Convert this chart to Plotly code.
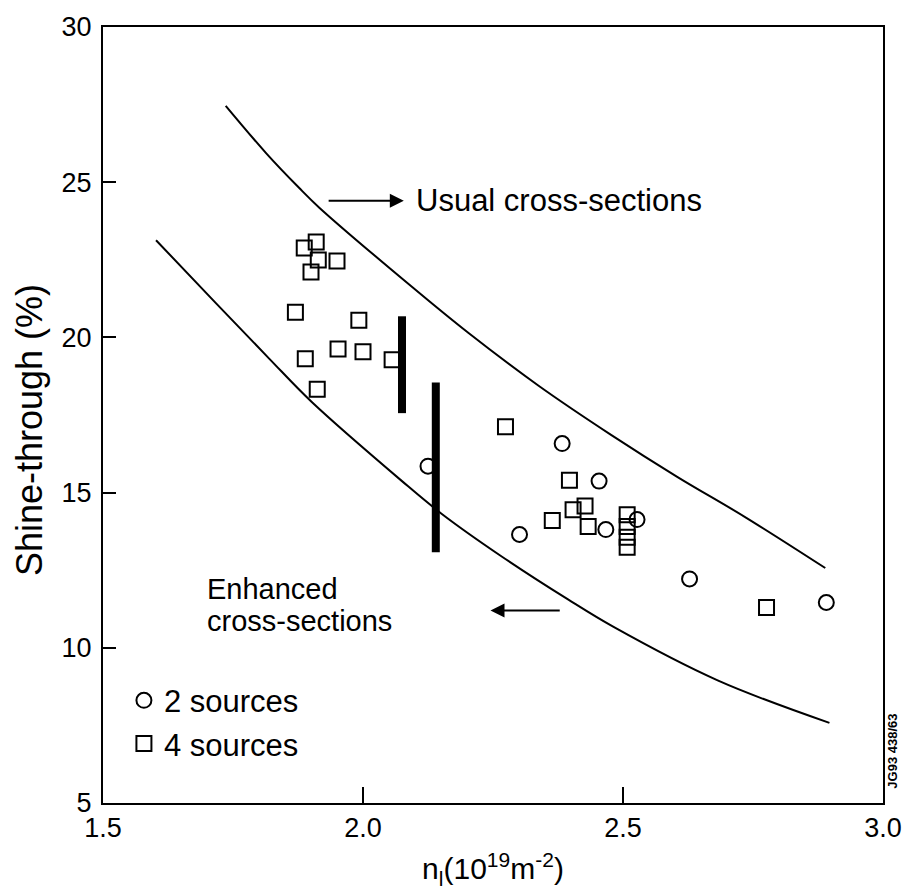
import plotly.graph_objects as go

# ---- data ----
sq_x = [1.887, 1.910, 1.914, 1.900, 1.950, 1.870, 1.992, 1.952, 2.000, 1.889, 2.056, 1.912,
        2.274, 2.397, 2.427, 2.404, 2.364, 2.433, 2.508, 2.508, 2.508, 2.508, 2.776]
sq_y = [22.88, 23.07, 22.49, 22.11, 22.46, 20.81, 20.55, 19.63, 19.54, 19.31, 19.28, 18.33,
        17.12, 15.40, 14.57, 14.45, 14.10, 13.91, 14.29, 13.91, 13.56, 13.24, 11.30]

ci_x = [2.125, 2.383, 2.454, 2.301, 2.467, 2.527, 2.628, 2.891]
ci_y = [15.85, 16.58, 15.37, 13.65, 13.81, 14.13, 12.22, 11.46]

upper_x = [1.736, 1.814, 1.877, 1.916, 2.094, 2.203, 2.337, 2.477, 2.605, 2.734, 2.889]
upper_y = [27.46, 25.93, 24.82, 24.18, 21.63, 20.14, 18.45, 16.86, 15.50, 14.22, 12.57]

lower_x = [1.602, 1.718, 1.820, 1.902, 2.075, 2.151, 2.266, 2.395, 2.481, 2.682, 2.897]
lower_y = [23.13, 21.09, 19.31, 17.91, 15.37, 14.32, 12.95, 11.55, 10.68, 8.95, 7.58]

bar1_x = [2.075, 2.075]
bar1_y = [17.56, 20.68]
bar2_x = [2.140, 2.140]
bar2_y = [13.08, 18.55]

x_ticks = [1.5, 2.0, 2.5, 3.0]
x_tick_text = ["1.5", "2.0", "2.5", "3.0"]
y_ticks = [5, 10, 15, 20, 25, 30]

FONT = "Liberation Sans, Arial, sans-serif"

fig = go.Figure()
fig.add_trace(go.Scatter(x=upper_x, y=upper_y, mode="lines", line=dict(color="black", width=2, shape="spline"),
                         showlegend=False, hoverinfo="skip"))
fig.add_trace(go.Scatter(x=lower_x, y=lower_y, mode="lines", line=dict(color="black", width=2, shape="spline"),
                         showlegend=False, hoverinfo="skip"))
fig.add_trace(go.Scatter(x=bar1_x, y=bar1_y, mode="lines", line=dict(color="black", width=8),
                         showlegend=False))
fig.add_trace(go.Scatter(x=bar2_x, y=bar2_y, mode="lines", line=dict(color="black", width=8),
                         showlegend=False))
fig.add_trace(go.Scatter(x=ci_x, y=ci_y, mode="markers", name="2 sources",
                         marker=dict(symbol="circle-open", size=15, color="black", line=dict(width=2, color="black"))))
fig.add_trace(go.Scatter(x=sq_x, y=sq_y, mode="markers", name="4 sources",
                         marker=dict(symbol="square-open", size=15, color="black", line=dict(width=2, color="black"))))

def yv(py):
    return 30 - (py - 17) / 31.44

def xv(px):
    return 1.5 + (px - 103) / 522.0

annots = [
    dict(x=xv(415), y=yv(193), text="Usual cross-sections", xanchor="left", yanchor="middle",
         showarrow=False, font=dict(size=31)),
    dict(x=xv(205), y=yv(586), text="Enhanced", xanchor="left", yanchor="middle",
         showarrow=False, font=dict(size=29)),
    dict(x=xv(205), y=yv(619), text="cross-sections", xanchor="left", yanchor="middle",
         showarrow=False, font=dict(size=29)),
    dict(x=xv(405), y=yv(193), ax=xv(328), ay=yv(193), axref="x", ayref="y", text="",
         showarrow=True, arrowhead=2, arrowsize=1.4, arrowwidth=2, arrowcolor="black"),
    dict(x=xv(492), y=yv(608), ax=xv(563), ay=yv(608), axref="x", ayref="y", text="",
         showarrow=True, arrowhead=2, arrowsize=1.4, arrowwidth=2, arrowcolor="black"),
    dict(x=(30 - 103) / 783, y=yv(425), xref="paper", text="Shine-through (%)", textangle=-90,
         showarrow=False, font=dict(size=36), xanchor="center", yanchor="middle"),
    dict(x=(896 - 103) / 783, y=yv(750), xref="paper", text="<b>JG93 438/63</b>", textangle=-90,
         showarrow=False, font=dict(size=13), xanchor="center", yanchor="middle"),
]
for a in annots:
    a.setdefault("xref", "x")
    a.setdefault("yref", "y")

fig.update_layout(
    width=914, height=896,
    margin=dict(l=103, r=28, t=17, b=93),
    paper_bgcolor="white", plot_bgcolor="white",
    font=dict(family=FONT, color="black", size=27),
    annotations=annots,
    showlegend=True,
    legend=dict(x=(124 - 103) / 783, y=(803 - 672) / 786, xanchor="left", yanchor="top",
                bgcolor="rgba(0,0,0,0)", font=dict(size=31), tracegroupgap=0),
)
fig.update_xaxes(range=[1.5, 3.0], tickvals=x_ticks, ticktext=x_tick_text, ticks="inside", ticklen=16,
                 tickwidth=1.5, tickcolor="black", showline=True, linecolor="black", linewidth=2,
                 mirror=True, showgrid=False, zeroline=False,
                 title=dict(text="n<sub>l</sub>(10<sup>19</sup>m<sup>-2</sup>)", font=dict(size=30), standoff=16))
fig.update_yaxes(range=[5, 30], tickvals=y_ticks, ticks="inside", ticklen=13, tickwidth=1.5,
                 tickcolor="black", showline=True, linecolor="black", linewidth=2, mirror=True,
                 showgrid=False, zeroline=False, ticklabelstandoff=4)

fig.write_html("out.html")
